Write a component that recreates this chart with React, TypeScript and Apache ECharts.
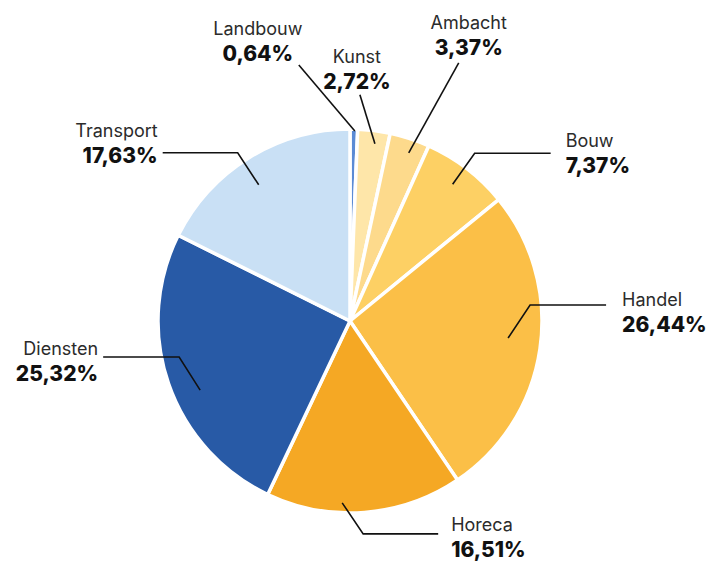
import React, { useEffect, useRef } from "react";
import * as echarts from "echarts";

// ---- data ----
const categories = ["Landbouw", "Kunst", "Ambacht", "Bouw", "Handel", "Horeca", "Diensten", "Transport"];
const shares = [0.64, 2.72, 3.37, 7.37, 26.44, 16.51, 25.32, 17.63];

// ---- styles / layout ----
const sliceColors = ["#5b8bd5", "#fee6a9", "#fdda8c", "#fdd064", "#fbbf47", "#f5a824", "#285aa6", "#c9e0f5"];
const CX = 350;
const CY = 321;
const R = 192;
// where each leader line starts (radius, angular shift from the slice's mid-angle, degrees)
const leaderRadius = [190, 179, 178, 171, 159, 182, 165, 164];
const leaderAngleShift = [0.3, 0.8, 1.1, -0.6, -2.2, 6.8, -5.7, -2.1];
// leader line segments, relative steps in px
const leaderSegments: number[][][] = [
  [[-56, -66]],
  [[-15, -49]],
  [[50, -90]],
  [[22, -31], [76, 0]],
  [[22, -33], [76, 0]],
  [[21, 31], [75, 0]],
  [[-21, -33], [-76, 0]],
  [[-21, -32], [-75, 0]],
];
// label block position relative to the end of the leader line
const labelAnchor: { dx: number; dy: number; align: string }[] = [
  { dx: -41, dy: -24, align: "center" },
  { dx: -3, dy: -26, align: "center" },
  { dx: 10, dy: -28, align: "center" },
  { dx: 15, dy: 0, align: "left" },
  { dx: 16, dy: 7, align: "left" },
  { dx: 13, dy: 3, align: "left" },
  { dx: -5, dy: 4, align: "right" },
  { dx: -5, dy: -10, align: "right" },
];

function leaderPoints(): number[][][] {
  const total = shares.reduce((a, b) => a + b, 0);
  let cum = 0;
  return shares.map((v, i) => {
    const mid = ((cum + v / 2) / total) * 360 + leaderAngleShift[i];
    cum += v;
    const rad = (mid * Math.PI) / 180;
    const start = [CX + leaderRadius[i] * Math.sin(rad), CY - leaderRadius[i] * Math.cos(rad)];
    const pts = [start];
    let p = start;
    leaderSegments[i].forEach((s) => {
      p = [p[0] + s[0], p[1] + s[1]];
      pts.push(p);
    });
    return pts;
  });
}

const fmt = (v: number) => v.toFixed(2).replace(".", ",") + "%";

export default function App() {
  const ref = useRef<HTMLDivElement>(null);
  useEffect(() => {
    document.body.style.margin = "0";
    if (!ref.current) return;
    const chart = echarts.init(ref.current, undefined, { renderer: "svg" });
    const lines = leaderPoints();
    const base = {
      type: "pie",
      center: [CX, CY],
      radius: [0, R],
      startAngle: 90,
      clockwise: true,
      silent: true,
      avoidLabelOverlap: false,
      emphasis: { disabled: true },
    };
    chart.setOption({
      animation: false,
      backgroundColor: "#ffffff",
      series: [
        {
          ...base,
          z: 2,
          itemStyle: { borderColor: "#ffffff", borderWidth: 3.5 },
          label: { show: false },
          labelLine: { show: false },
          data: categories.map((name, i) => ({
            name,
            value: shares[i],
            itemStyle: { color: sliceColors[i] },
          })),
        },
        {
          ...base,
          z: 4,
          itemStyle: { color: "rgba(0,0,0,0)", borderWidth: 0 },
          label: {
            show: true,
            position: "outside",
            formatter: (p: any) => `{n|${p.name}}\n{v|${fmt(p.value)}}`,
            rich: {
              n: { fontFamily: "Inter", fontSize: 18, color: "#2b2b2b", lineHeight: 25 },
              v: { fontFamily: "Inter", fontSize: 21, fontWeight: 800, color: "#111111", lineHeight: 25 },
            },
          },
          labelLine: {
            show: true,
            smooth: false,
            length: 20,
            length2: 40,
            lineStyle: { color: "#111111", width: 1.6 },
          },
          labelLayout: (params: any) => {
            const i = params.dataIndex;
            const pts = lines[i];
            const end = pts[pts.length - 1];
            const a = labelAnchor[i];
            return {
              x: end[0] + a.dx,
              y: end[1] + a.dy,
              align: a.align,
              verticalAlign: "middle",
              labelLinePoints: pts,
            };
          },
          data: categories.map((name, i) => ({ name, value: shares[i] })),
        },
      ],
    });
    return () => chart.dispose();
  }, []);
  return <div ref={ref} style={{ width: 712, height: 563 }} />;
}
